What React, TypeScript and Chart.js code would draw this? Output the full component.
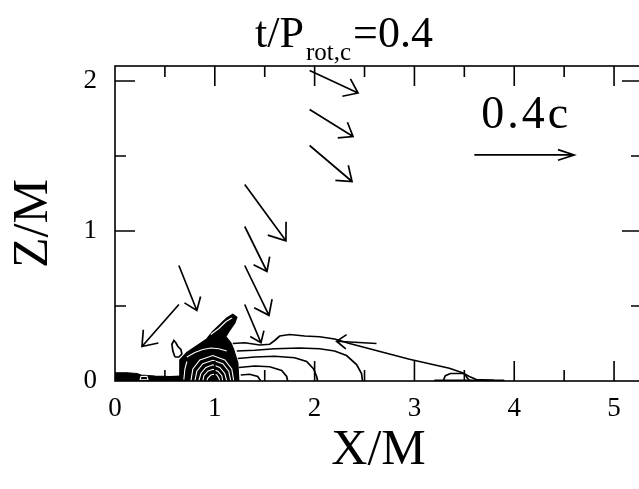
import React, { useEffect, useRef } from 'react';
import { Chart, registerables } from 'chart.js';

Chart.register(...registerables);

// Axis ranges (units of M) and tick layout
const X_MIN = 0;
const X_MAX = 5.28;
const Z_MIN = 0;
const Z_MAX = 2.1;
const TICK_STEP = 0.5;
const xLabelled = [0, 1, 2, 3, 4, 5];
const zLabelled = [0, 1, 2];

const titleMain = 't/P';
const titleSub = 'rot,c';
const titleValue = '=0.4';
const xTitle = 'X/M';
const zTitle = 'Z/M';

// Poloidal velocity arrows: tail position (M) and velocity (c)
const arrowTailX = [1.95, 1.95, 1.95, 1.30, 1.30, 1.30, 1.30, 0.64, 0.64, 2.62];
const arrowTailZ = [2.07, 1.81, 1.57, 1.31, 1.03, 0.77, 0.51, 0.77, 0.51, 0.25];
const arrowVelX = [0.194, 0.174, 0.170, 0.165, 0.089, 0.097, 0.065, 0.072, -0.148, -0.160];
const arrowVelZ = [-0.060, -0.072, -0.096, -0.150, -0.120, -0.133, -0.102, -0.120, -0.112, 0.006];

// Reference arrow: 0.4c is drawn 1 M long
const refSpeed = 0.4;
const refLength = 1.0;
const refTailX = 3.6;
const refTailZ = 1.507;
const refLabel = '0.4c';

// Rest-mass density contours, [X, Z] in M
const coreOutline = [
  [0.65, 0], [0.65, 0.14], [0.72, 0.19], [0.82, 0.235], [0.92, 0.28], [0.98, 0.33],
  [1.05, 0.375], [1.12, 0.42], [1.18, 0.445], [1.22, 0.425], [1.20, 0.387], [1.15, 0.34],
  [1.11, 0.295], [1.16, 0.255], [1.19, 0.207], [1.23, 0.12], [1.24, 0],
];
const leftStrip = [
  [0, 0], [0, 0.055], [0.12, 0.055], [0.22, 0.05], [0.26, 0.04], [0.4, 0.033],
  [0.55, 0.03], [0.65, 0.033], [0.66, 0],
];
const innerRings = [
  [[0.76, 0], [0.78, 0.08], [0.85, 0.14], [0.98, 0.17], [1.10, 0.14], [1.17, 0.08], [1.19, 0]],
  [[0.80, 0], [0.82, 0.065], [0.88, 0.115], [0.98, 0.138], [1.08, 0.115], [1.14, 0.065], [1.16, 0]],
  [[0.84, 0], [0.86, 0.05], [0.91, 0.09], [0.98, 0.108], [1.05, 0.09], [1.10, 0.05], [1.12, 0]],
  [[0.88, 0], [0.89, 0.035], [0.93, 0.065], [0.98, 0.078], [1.03, 0.065], [1.07, 0.035], [1.08, 0]],
  [[0.92, 0], [0.93, 0.02], [0.96, 0.04], [0.99, 0.045], [1.02, 0.04], [1.04, 0.02], [1.05, 0]],
  [[0.72, 0.16], [0.80, 0.19], [0.88, 0.21], [0.96, 0.22], [1.04, 0.215], [1.12, 0.2]],
  [[0.96, 0.31], [1.04, 0.35], [1.11, 0.395], [1.17, 0.42]],
  [[0.69, 0.01], [0.70, 0.08], [0.72, 0.13]],
  [[0.25, 0.008], [0.26, 0.03], [0.32, 0.032], [0.33, 0.01], [0.25, 0.008]],
];
const outerContours = [
  [[1.18, 0.25], [1.30, 0.255], [1.45, 0.24], [1.55, 0.245], [1.60, 0.27], [1.65, 0.30],
    [1.75, 0.31], [1.90, 0.30], [2.05, 0.295], [2.20, 0.28], [2.35, 0.25], [2.55, 0.215],
    [2.75, 0.18], [2.95, 0.145], [3.15, 0.115], [3.35, 0.085], [3.48, 0.055], [3.55, 0.03],
    [3.62, 0.01], [3.80, 0.005]],
  [[1.22, 0.2], [1.40, 0.205], [1.60, 0.215], [1.85, 0.22], [2.05, 0.215], [2.20, 0.2],
    [2.32, 0.17], [2.42, 0.11], [2.47, 0.05], [2.48, 0]],
  [[1.23, 0.15], [1.40, 0.16], [1.60, 0.165], [1.80, 0.155], [1.92, 0.13], [1.99, 0.08],
    [2.02, 0.03], [2.03, 0]],
  [[1.24, 0.09], [1.40, 0.10], [1.55, 0.095], [1.67, 0.07], [1.72, 0.03], [1.73, 0]],
  [[1.26, 0.04], [1.35, 0.045], [1.43, 0.03], [1.46, 0]],
  [[0.60, 0.16], [0.58, 0.2], [0.57, 0.245], [0.59, 0.27], [0.61, 0.255], [0.63, 0.23],
    [0.66, 0.21], [0.67, 0.18], [0.64, 0.16], [0.60, 0.16]],
  [[3.29, 0.005], [3.31, 0.035], [3.36, 0.05], [3.50, 0.05], [3.53, 0.02], [3.55, 0.005]],
  [[3.20, 0.004], [3.90, 0.004]],
];

const SERIF = '"Liberation Serif", "Times New Roman", serif';

const toPoints = (pts: number[][]) => pts.map(([x, y]) => ({ x, y }));

function drawArrow(ctx: CanvasRenderingContext2D, x0: number, y0: number, x1: number, y1: number, barb: number, spread: number) {
  const back = Math.atan2(y0 - y1, x0 - x1);
  ctx.beginPath();
  ctx.moveTo(x0, y0);
  ctx.lineTo(x1, y1);
  ctx.moveTo(x1 + barb * Math.cos(back + spread), y1 + barb * Math.sin(back + spread));
  ctx.lineTo(x1, y1);
  ctx.lineTo(x1 + barb * Math.cos(back - spread), y1 + barb * Math.sin(back - spread));
  ctx.stroke();
}

const isMajor = (v: number) => Math.abs(v - Math.round(v)) < 1e-6;

const overlay = {
  id: 'overlay',
  afterDatasetsDraw(chart: any) {
    const { ctx, chartArea: a, scales } = chart;
    const xs = scales.x;
    const zs = scales.y;

    // velocity field
    ctx.save();
    ctx.beginPath();
    ctx.rect(a.left, a.top, a.right - a.left, a.bottom - a.top);
    ctx.clip();
    ctx.strokeStyle = '#000';
    ctx.lineWidth = 1.7;
    ctx.lineJoin = 'miter';
    for (let i = 0; i < arrowTailX.length; i++) {
      const scale = refLength / refSpeed;
      const x0 = xs.getPixelForValue(arrowTailX[i]);
      const y0 = zs.getPixelForValue(arrowTailZ[i]);
      const x1 = xs.getPixelForValue(arrowTailX[i] + arrowVelX[i] * scale);
      const y1 = zs.getPixelForValue(arrowTailZ[i] + arrowVelZ[i] * scale);
      const len = Math.hypot(x1 - x0, y1 - y0);
      drawArrow(ctx, x0, y0, x1, y1, Math.min(19, 0.3 * len), 0.64);
    }
    // reference arrow and its label
    const rx0 = xs.getPixelForValue(refTailX);
    const ry = zs.getPixelForValue(refTailZ);
    const rx1 = xs.getPixelForValue(refTailX + refLength);
    drawArrow(ctx, rx0, ry, rx1, ry, 17, 0.32);
    ctx.fillStyle = '#000';
    ctx.font = `46px ${SERIF}`;
    (ctx as any).letterSpacing = '3px';
    ctx.textAlign = 'center';
    ctx.textBaseline = 'alphabetic';
    ctx.fillText(refLabel, (rx0 + rx1) / 2 + 2, ry - 27);
    (ctx as any).letterSpacing = '0px';
    ctx.restore();

    // frame with inward ticks
    ctx.save();
    ctx.strokeStyle = '#000';
    ctx.lineWidth = 1.6;
    ctx.strokeRect(a.left, a.top, a.right - a.left, a.bottom - a.top);
    ctx.beginPath();
    for (const t of xs.ticks) {
      const v = t.value;
      if (v <= X_MIN) continue;
      const px = xs.getPixelForValue(v);
      const len = isMajor(v) ? 20 : 11;
      ctx.moveTo(px, a.bottom);
      ctx.lineTo(px, a.bottom - len);
      ctx.moveTo(px, a.top);
      ctx.lineTo(px, a.top + len);
    }
    for (const t of zs.ticks) {
      const v = t.value;
      if (v <= Z_MIN) continue;
      const py = zs.getPixelForValue(v);
      const len = isMajor(v) ? 20 : 11;
      ctx.moveTo(a.left, py);
      ctx.lineTo(a.left + len, py);
      ctx.moveTo(a.right, py);
      ctx.lineTo(a.right - len, py);
    }
    ctx.stroke();

    // title with subscript
    ctx.fillStyle = '#000';
    ctx.textBaseline = 'alphabetic';
    ctx.textAlign = 'left';
    const big = `44px ${SERIF}`;
    const small = `25px ${SERIF}`;
    ctx.font = big;
    const w1 = ctx.measureText(titleMain).width;
    const w3 = ctx.measureText(titleValue).width;
    ctx.font = small;
    const w2 = ctx.measureText(titleSub).width;
    const total = w1 + 2 + w2 + 2 + w3;
    let tx = 344 - total / 2;
    ctx.font = big;
    ctx.fillText(titleMain, tx, 47);
    tx += w1 + 2;
    ctx.font = small;
    ctx.fillText(titleSub, tx, 60);
    tx += w2 + 2;
    ctx.font = big;
    ctx.fillText(titleValue, tx, 47);
    ctx.restore();
  },
};

export default function App() {
  const ref = useRef<HTMLCanvasElement | null>(null);

  useEffect(() => {
    if (!ref.current) return;
    const lineSet = (pts: number[][], color: string, width: number) => ({
      data: toPoints(pts),
      showLine: true,
      borderColor: color,
      borderWidth: width,
      pointRadius: 0,
      fill: false,
      tension: 0,
    });
    const datasets: any[] = [
      ...outerContours.map((c) => lineSet(c, '#000', 1.7)),
      ...innerRings.map((c) => lineSet(c, '#fff', 1.1)),
      { ...lineSet(coreOutline, '#000', 1.4), fill: 'shape', backgroundColor: '#000' },
      { ...lineSet(leftStrip, '#000', 1.2), fill: 'shape', backgroundColor: '#000' },
    ];

    const chart = new Chart(ref.current, {
      type: 'scatter',
      data: { datasets },
      options: {
        responsive: false,
        animation: false,
        events: [],
        layout: { padding: { top: 66, right: 18, left: 0, bottom: 0 } },
        plugins: { legend: { display: false }, tooltip: { enabled: false }, title: { display: false } },
        scales: {
          x: {
            type: 'linear',
            position: 'bottom',
            min: X_MIN,
            max: X_MAX,
            afterFit: (s: any) => { s.height = 108; },
            grid: { display: false, drawTicks: false },
            border: { display: false },
            ticks: {
              stepSize: TICK_STEP,
              includeBounds: false,
              autoSkip: false,
              maxRotation: 0,
              padding: 12,
              color: '#000',
              font: { family: SERIF, size: 27 },
              callback: (v: any) => (xLabelled.includes(Number(v)) ? String(v) : ''),
            },
            title: {
              display: true,
              text: xTitle,
              color: '#000',
              font: { family: SERIF, size: 50 },
              padding: { top: 0, bottom: 8 },
            },
          },
          y: {
            type: 'linear',
            position: 'left',
            min: Z_MIN,
            max: Z_MAX,
            afterFit: (s: any) => { s.width = 115; },
            grid: { display: false, drawTicks: false },
            border: { display: false },
            ticks: {
              stepSize: TICK_STEP,
              includeBounds: false,
              autoSkip: false,
              padding: 18,
              color: '#000',
              font: { family: SERIF, size: 27 },
              callback: (v: any) => (zLabelled.includes(Number(v)) ? String(v) : ''),
            },
            title: {
              display: true,
              text: zTitle,
              color: '#000',
              font: { family: SERIF, size: 50 },
              padding: { top: 4, bottom: 0 },
            },
          },
        },
      },
      plugins: [overlay],
    });
    return () => chart.destroy();
  }, []);

  return (
    <div style={{ position: 'fixed', left: 0, top: 0, width: 639, height: 489, overflow: 'hidden', background: '#fff' }}>
      <canvas ref={ref} width={660} height={489} style={{ display: 'block', width: 660, height: 489 }} />
    </div>
  );
}
